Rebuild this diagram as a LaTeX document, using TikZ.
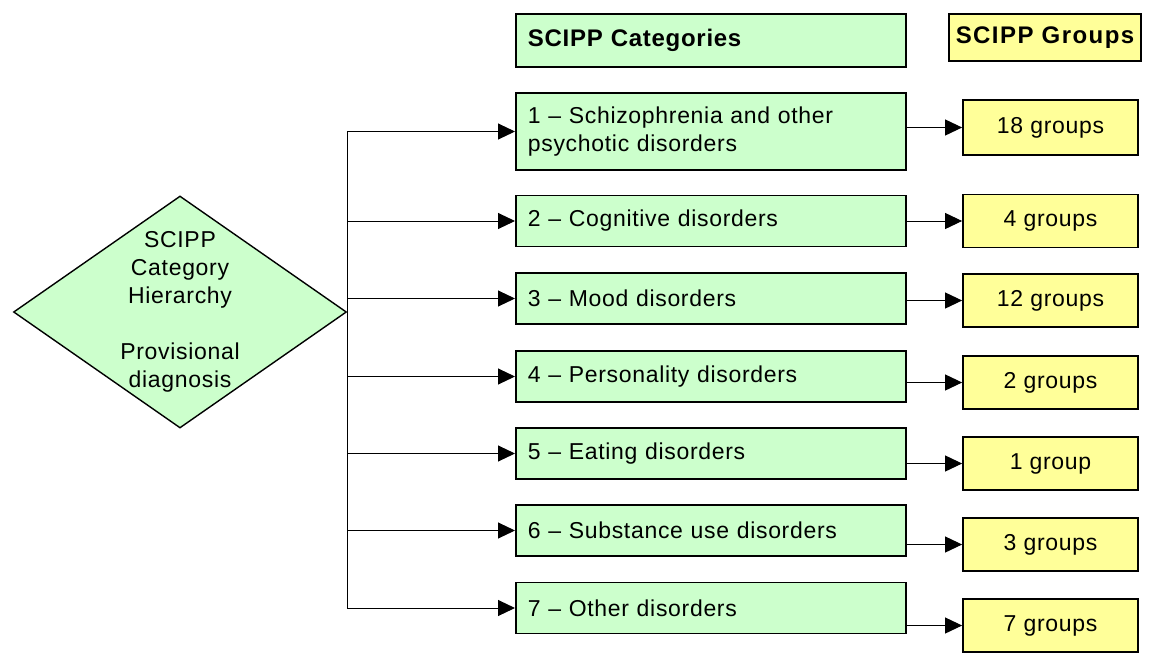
\documentclass[tikz,border=0pt]{standalone}
\usepackage{fontspec}
\setmainfont{Liberation Sans}[LetterSpace=3]
\usetikzlibrary{shapes.geometric,arrows.meta}
\definecolor{scippgreen}{RGB}{204,255,204}
\definecolor{scippyellow}{RGB}{255,255,153}

\begin{document}
\begin{tikzpicture}[x=0.5pt,y=-0.5pt,font=\fontsize{11.5}{14}\selectfont]

%
% Styles
%
\tikzstyle{decision} = [diamond,draw,line width=0.7pt,fill=scippgreen,minimum width=166.5pt,minimum height=116pt,inner sep=0pt]
\tikzstyle{category} = [rectangle,draw,line width=0.9pt,fill=scippgreen,anchor=west,text width=183pt,inner xsep=6pt,align=left,minimum height=25.5pt]
\tikzstyle{group}    = [rectangle,draw,line width=0.9pt,fill=scippyellow,minimum width=87.5pt,minimum height=26.5pt]
\tikzstyle{heading}  = [font=\fontsize{12}{14}\selectfont\bfseries]
\tikzstyle{edge}     = [-{Triangle[length=8.5pt,width=8pt]},line width=0.5pt,draw=black]

\useasboundingbox (0,0) rectangle (1155,653);

\node[decision,label={[align=center]center:SCIPP\\Category\\Hierarchy\\[14pt]Provisional\\diagnosis}] (diag) at (180,312) {};
\coordinate (trunk) at (diag.east);

\node[category,heading,minimum height=26.5pt] (cathead) at (515,40.5) {SCIPP Categories};
\node[group,heading,minimum width=96pt,minimum height=23.5pt,inner xsep=2pt] (grphead) at (1045,37.5) {\addfontfeature{LetterSpace=6}SCIPP Groups};

\node[category,minimum height=38.5pt] (c1) at (515,131.5) {1 -- Schizophrenia and other\\psychotic disorders};
\node[category] (c2) at (515,221)   {2 -- Cognitive disorders};
\node[category] (c3) at (515,298.5) {3 -- Mood disorders};
\node[category] (c4) at (515,376.5) {4 -- Personality disorders};
\node[category] (c5) at (515,453.5) {5 -- Eating disorders};
\node[category] (c6) at (515,530.5) {6 -- Substance use disorders};
\node[category] (c7) at (515,608)   {7 -- Other disorders};

\node[group,minimum height=27.5pt] (g1) at (1050.5,127.5) {18 groups};
\node[group] (g2) at (1050.5,221)   {4 groups};
\node[group] (g3) at (1050.5,300.5) {12 groups};
\node[group] (g4) at (1050.5,382.5) {2 groups};
\node[group] (g5) at (1050.5,463.5) {1 group};
\node[group] (g6) at (1050.5,544.5) {3 groups};
\node[group] (g7) at (1050.5,625.5) {7 groups};

\draw[line width=0.5pt] (trunk |- c1.west) -- (trunk |- c7.west);
\foreach \i in {1,...,7} {
  \draw[edge] (trunk |- c\i.west) -- (c\i.west);
  \draw[edge] (c\i.east |- g\i.west) -- (g\i.west);
}

\end{tikzpicture}
\end{document}
